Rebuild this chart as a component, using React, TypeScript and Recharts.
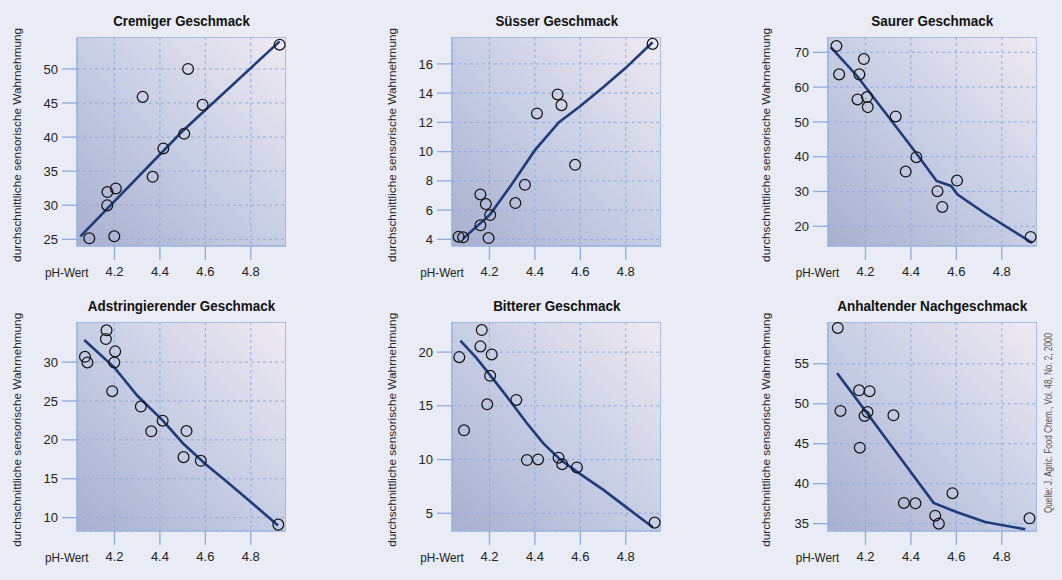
import React from 'react';
import { ComposedChart, Scatter, XAxis, YAxis, CartesianGrid, ReferenceArea } from 'recharts';

// ---------- data ----------
const phTicks = [4.2, 4.4, 4.6, 4.8];
const phDomain: [number, number] = [4.035, 4.955];

const cremigPoints = [
  { x: 4.089, y: 25.15 }, { x: 4.169, y: 31.93 }, { x: 4.206, y: 32.47 }, { x: 4.168, y: 29.98 },
  { x: 4.199, y: 25.44 }, { x: 4.324, y: 45.9 }, { x: 4.368, y: 34.18 }, { x: 4.415, y: 38.33 },
  { x: 4.507, y: 40.48 }, { x: 4.524, y: 50.0 }, { x: 4.588, y: 44.73 }, { x: 4.927, y: 53.56 },
];
const cremigFit = [{ x: 4.05, y: 25.44 }, { x: 4.5, y: 40.9 }, { x: 4.927, y: 54.05 }];
const cremigTicks = [25, 30, 35, 40, 45, 50];
const cremigDomain: [number, number] = [24.02, 54.69];

const suessPoints = [
  { x: 4.064, y: 4.18 }, { x: 4.084, y: 4.14 }, { x: 4.16, y: 7.07 }, { x: 4.184, y: 6.41 },
  { x: 4.203, y: 5.66 }, { x: 4.16, y: 4.96 }, { x: 4.196, y: 4.09 }, { x: 4.314, y: 6.48 },
  { x: 4.356, y: 7.73 }, { x: 4.409, y: 12.61 }, { x: 4.5, y: 13.91 }, { x: 4.517, y: 13.18 },
  { x: 4.577, y: 9.1 }, { x: 4.918, y: 17.37 },
];
const suessFit = [
  { x: 4.084, y: 4.05 }, { x: 4.203, y: 5.71 }, { x: 4.305, y: 7.92 }, { x: 4.4, y: 10.1 },
  { x: 4.506, y: 12.02 }, { x: 4.599, y: 13.1 }, { x: 4.703, y: 14.43 }, { x: 4.8, y: 15.73 },
  { x: 4.918, y: 17.48 },
];
const suessTicks = [4, 6, 8, 10, 12, 14, 16];
const suessDomain: [number, number] = [3.545, 17.84];

const sauerPoints = [
  { x: 4.072, y: 71.82 }, { x: 4.084, y: 63.67 }, { x: 4.193, y: 68.08 }, { x: 4.173, y: 63.67 },
  { x: 4.165, y: 56.47 }, { x: 4.207, y: 57.14 }, { x: 4.21, y: 54.26 }, { x: 4.333, y: 51.57 },
  { x: 4.377, y: 35.74 }, { x: 4.424, y: 39.87 }, { x: 4.517, y: 30.08 }, { x: 4.538, y: 25.57 },
  { x: 4.603, y: 33.15 }, { x: 4.927, y: 16.93 },
];
const sauerFit = [
  { x: 4.048, y: 71.44 }, { x: 4.162, y: 63.28 }, { x: 4.294, y: 52.05 }, { x: 4.412, y: 41.98 },
  { x: 4.513, y: 33.05 }, { x: 4.577, y: 31.6 }, { x: 4.604, y: 29.2 }, { x: 4.722, y: 23.9 },
  { x: 4.935, y: 15.2 },
];
const sauerTicks = [20, 30, 40, 50, 60, 70];
const sauerDomain: [number, number] = [14.34, 74.41];

const adstrPoints = [
  { x: 4.07, y: 30.69 }, { x: 4.081, y: 29.96 }, { x: 4.165, y: 34.09 }, { x: 4.162, y: 32.97 },
  { x: 4.203, y: 31.38 }, { x: 4.199, y: 29.96 }, { x: 4.19, y: 26.26 }, { x: 4.316, y: 24.28 },
  { x: 4.362, y: 21.1 }, { x: 4.412, y: 22.47 }, { x: 4.517, y: 21.14 }, { x: 4.504, y: 17.78 },
  { x: 4.58, y: 17.31 }, { x: 4.921, y: 9.1 },
];
const adstrFit = [
  { x: 4.067, y: 32.84 }, { x: 4.2, y: 29.3 }, { x: 4.3, y: 25.7 }, { x: 4.412, y: 22.5 },
  { x: 4.5, y: 19.6 }, { x: 4.6, y: 16.9 }, { x: 4.7, y: 14.5 }, { x: 4.8, y: 12.0 },
  { x: 4.92, y: 9.0 },
];
const adstrTicks = [10, 15, 20, 25, 30];
const adstrDomain: [number, number] = [8.28, 35.16];

const bitterPoints = [
  { x: 4.067, y: 19.53 }, { x: 4.088, y: 12.72 }, { x: 4.166, y: 22.05 }, { x: 4.16, y: 20.53 },
  { x: 4.21, y: 19.78 }, { x: 4.203, y: 17.79 }, { x: 4.19, y: 15.14 }, { x: 4.318, y: 15.55 },
  { x: 4.365, y: 9.95 }, { x: 4.414, y: 10.01 }, { x: 4.504, y: 10.17 }, { x: 4.52, y: 9.57 },
  { x: 4.585, y: 9.26 }, { x: 4.927, y: 4.13 },
];
const bitterFit = [
  { x: 4.072, y: 21.06 }, { x: 4.143, y: 19.44 }, { x: 4.201, y: 17.9 }, { x: 4.275, y: 15.9 },
  { x: 4.364, y: 13.4 }, { x: 4.437, y: 11.5 }, { x: 4.511, y: 10.0 }, { x: 4.6, y: 8.64 },
  { x: 4.703, y: 7.15 }, { x: 4.806, y: 5.5 }, { x: 4.919, y: 3.7 },
];
const bitterTicks = [5, 10, 15, 20];
const bitterDomain: [number, number] = [3.35, 22.8];

const nachPoints = [
  { x: 4.078, y: 59.48 }, { x: 4.09, y: 49.1 }, { x: 4.172, y: 51.69 }, { x: 4.218, y: 51.57 },
  { x: 4.209, y: 48.97 }, { x: 4.196, y: 48.47 }, { x: 4.175, y: 44.5 }, { x: 4.323, y: 48.56 },
  { x: 4.369, y: 37.59 }, { x: 4.42, y: 37.55 }, { x: 4.507, y: 36.0 }, { x: 4.523, y: 35.0 },
  { x: 4.583, y: 38.81 }, { x: 4.922, y: 35.67 },
];
const nachFit = [
  { x: 4.075, y: 53.83 }, { x: 4.213, y: 48.6 }, { x: 4.5, y: 37.6 }, { x: 4.6, y: 36.46 },
  { x: 4.727, y: 35.21 }, { x: 4.903, y: 34.29 },
];
const nachTicks = [35, 40, 45, 50, 55];
const nachDomain: [number, number] = [34.08, 60.23];

const titles = [
  'Cremiger Geschmack', 'Süsser Geschmack', 'Saurer Geschmack',
  'Adstringierender Geschmack', 'Bitterer Geschmack', 'Anhaltender Nachgeschmack',
];
const yLabel = 'durchschnittliche sensorische Wahrnehmung';
const xLabel = 'pH-Wert';
const sourceText = 'Quelle: J. Agric. Food Chem., Vol. 48, No. 2, 2000';

// ---------- layout ----------
const PW = 209;
const PH = 209;
const YW = 60;
const XH = 40;
const colLeft = [77, 452.3, 827.7];
const rowTop = [37.4, 322.3];
const yLabelX = [21.3, 396, 770];
const titleWidths = [136.6, 122.7, 122, 187.3, 127.3, 190];

const FONT = "'Liberation Sans', Arial, sans-serif";

const panels = [
  { title: titles[0], points: cremigPoints, fit: cremigFit, ticks: cremigTicks, domain: cremigDomain },
  { title: titles[1], points: suessPoints, fit: suessFit, ticks: suessTicks, domain: suessDomain },
  { title: titles[2], points: sauerPoints, fit: sauerFit, ticks: sauerTicks, domain: sauerDomain },
  { title: titles[3], points: adstrPoints, fit: adstrFit, ticks: adstrTicks, domain: adstrDomain },
  { title: titles[4], points: bitterPoints, fit: bitterFit, ticks: bitterTicks, domain: bitterDomain },
  { title: titles[5], points: nachPoints, fit: nachFit, ticks: nachTicks, domain: nachDomain },
];

const Circle = (p: any) => (
  <circle cx={p.cx} cy={p.cy} r={5.4} fill="none" stroke="#151515" strokeWidth={1.25} />
);
const Nothing = () => <g />;

function Panel({ cfg, left, top }: any) {
  return (
    <div style={{ position: 'absolute', left: left - YW, top, width: PW + YW, height: PH + XH }}>
      <ComposedChart width={PW + YW} height={PH + XH} margin={{ top: 0, right: 0, bottom: 0, left: 0 }}>
        <CartesianGrid stroke="#93acdb" strokeDasharray="3 3" fill="url(#plotBg)" fillOpacity={1} />
        <XAxis
          type="number"
          dataKey="x"
          domain={phDomain}
          ticks={phTicks}
          allowDataOverflow
          interval={0}
          height={XH}
          tickSize={14}
          tickMargin={7}
          axisLine={false}
          tickLine={{ stroke: '#8eaadc', strokeWidth: 1.3 }}
          tick={{ fill: '#222', fontSize: 13, fontFamily: FONT }}
          tickFormatter={(v: number) => v.toFixed(1)}
        />
        <YAxis
          type="number"
          dataKey="y"
          domain={cfg.domain}
          ticks={cfg.ticks}
          allowDataOverflow
          interval={0}
          width={YW}
          tickSize={15}
          tickMargin={4}
          axisLine={false}
          tickLine={{ stroke: '#8eaadc', strokeWidth: 1.3 }}
          tick={{ fill: '#222', fontSize: 13, fontFamily: FONT }}
        />
        <ReferenceArea
          x1={phDomain[0]}
          x2={phDomain[1]}
          y1={cfg.domain[0]}
          y2={cfg.domain[1]}
          fill="none"
          stroke="#9fb5df"
          strokeWidth={1.6}
          ifOverflow="visible"
        />
        <Scatter data={cfg.fit} line={{ stroke: '#1e3c7c', strokeWidth: 2.6 }} lineType="joint" shape={Nothing} isAnimationActive={false} />
        <Scatter data={cfg.points} shape={Circle} isAnimationActive={false} />
      </ComposedChart>
    </div>
  );
}

export default function App() {
  return (
    <div style={{ position: 'absolute', left: 0, top: 0, width: 1062, height: 580, background: '#e9ecf4', overflow: 'hidden' }}>
      <svg width={0} height={0} style={{ position: 'absolute' }}>
        <defs>
          <linearGradient id="plotBg" x1="0" y1="1" x2="1" y2="0">
            <stop offset="0%" stopColor="#a9b0cf" />
            <stop offset="50%" stopColor="#c8cee4" />
            <stop offset="100%" stopColor="#efeaf2" />
          </linearGradient>
        </defs>
      </svg>
      {panels.map((cfg, i) => (
        <Panel key={i} cfg={cfg} left={colLeft[i % 3]} top={rowTop[Math.floor(i / 3)]} />
      ))}
      <svg width={1062} height={580} style={{ position: 'absolute', left: 0, top: 0, pointerEvents: 'none' }}>
        {panels.map((cfg, i) => {
          const c = i % 3;
          const r = Math.floor(i / 3);
          const L = colLeft[c];
          const T = rowTop[r];
          const cx = L + PW / 2;
          const cy = T + PH / 2 + 3;
          return (
            <g key={i}>
              <text
                x={cx}
                y={T - 11.3}
                textAnchor="middle"
                fontFamily={FONT}
                fontWeight="bold"
                fontSize={15.5}
                fill="#111"
                textLength={titleWidths[i]}
                lengthAdjust="spacingAndGlyphs"
              >
                {cfg.title}
              </text>
              <text
                x={yLabelX[c]}
                y={cy}
                transform={`rotate(-90 ${yLabelX[c]} ${cy})`}
                textAnchor="middle"
                fontFamily={FONT}
                fontSize={11.8}
                fill="#222"
                textLength={234}
                lengthAdjust="spacingAndGlyphs"
              >
                {yLabel}
              </text>
              <text x={L - 32} y={T + PH + 30.5} fontFamily={FONT} fontSize={13} fill="#222" textLength={43.5} lengthAdjust="spacingAndGlyphs">
                {xLabel}
              </text>
            </g>
          );
        })}
        <text
          x={1052}
          y={423}
          transform="rotate(-90 1052 423)"
          textAnchor="middle"
          fontFamily={FONT}
          fontSize={10.5}
          fill="#555"
          textLength={180}
          lengthAdjust="spacingAndGlyphs"
        >
          {sourceText}
        </text>
      </svg>
    </div>
  );
}
